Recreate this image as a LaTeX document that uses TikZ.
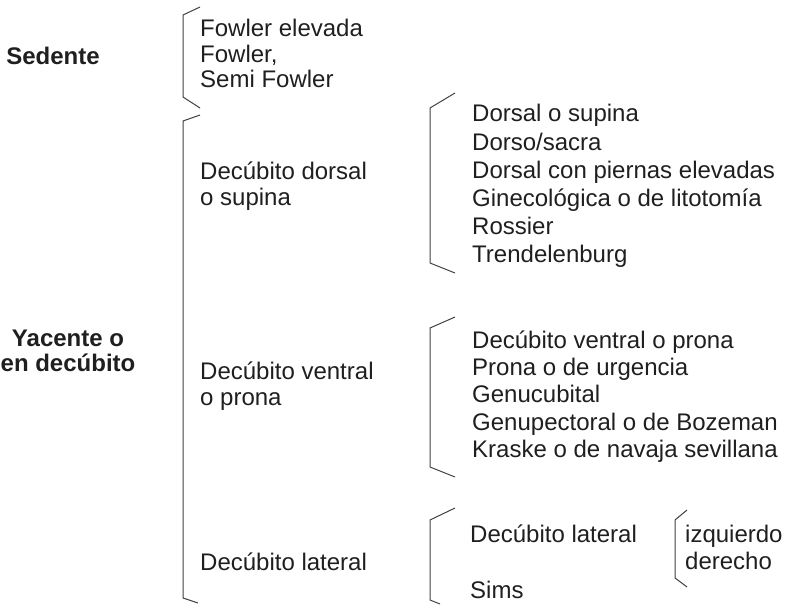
\documentclass[tikz,border=0pt]{standalone}
\usepackage{fontspec}
\setmainfont{Liberation Sans}
\begin{document}
\begin{tikzpicture}[x=1pt,y=-1pt,
  txt/.style={anchor=base west, inner sep=0pt, font=\fontsize{24}{28}\selectfont, text=black!88},
  hd/.style={anchor=base, inner sep=0pt, font=\fontsize{24}{28}\selectfont\bfseries, text=black!88},
  brk/.style={draw=black!75, line width=1pt, line join=miter}]
\useasboundingbox (0,0) rectangle (791,604);

% left headings
\node[hd] (sed) at (53,65) {Sedente};
\node[hd] (yac1) at (68,346) {Yacente o};
\node[hd] (yac2) at (68,371) {en decúbito};

% brackets of the first level
\draw[brk] (200,7) -- (183,15) -- (183,97) -- (200,108);
\draw[brk] (200,115) -- (183,121) -- (183,598) -- (198,603);

% sedente items
\node[txt] (fe) at (200,37) {Fowler elevada};
\node[txt] (fw) at (200,63) {Fowler,};
\node[txt] (sf) at (200,88) {Semi Fowler};

% yacente items
\node[txt] (dd1) at (200,179) {Decúbito dorsal};
\node[txt] (dd2) at (200,205) {o supina};
\node[txt] (dv1) at (200,379) {Decúbito ventral};
\node[txt] (dv2) at (200,405) {o prona};
\node[txt] (dl) at (200,570) {Decúbito lateral};

% second-level brackets
\draw[brk] (455,93) -- (430,108) -- (430,263) -- (455,273);
\draw[brk] (455,317) -- (430,328) -- (430,467) -- (455,477);
\draw[brk] (455,508) -- (430,520) -- (430,600) -- (440,604);

% dorsal list
\node[txt] (d1) at (472,122) {Dorsal o supina};
\node[txt] (d2) at (472,150) {Dorso/sacra};
\node[txt] (d3) at (472,178) {Dorsal con piernas elevadas};
\node[txt] (d4) at (472,206) {Ginecológica o de litotomía};
\node[txt] (d5) at (472,234) {Rossier};
\node[txt] (d6) at (472,262) {Trendelenburg};

% ventral list
\node[txt] (v1) at (472,348) {Decúbito ventral o prona};
\node[txt] (v2) at (472,375) {Prona o de urgencia};
\node[txt] (v3) at (472,402) {Genucubital};
\node[txt] (v4) at (472,430) {Genupectoral o de Bozeman};
\node[txt] (v5) at (472,457) {Kraske o de navaja sevillana};

% lateral list
\node[txt] (l1) at (470,542) {Decúbito lateral};
\node[txt] (l2) at (470,598) {Sims};

% third-level bracket
\draw[brk] (687,510) -- (675,520) -- (675,578) -- (687,587);
\node[txt] (iz) at (685,542) {izquierdo};
\node[txt] (de) at (685,569) {derecho};
\end{tikzpicture}
\end{document}
